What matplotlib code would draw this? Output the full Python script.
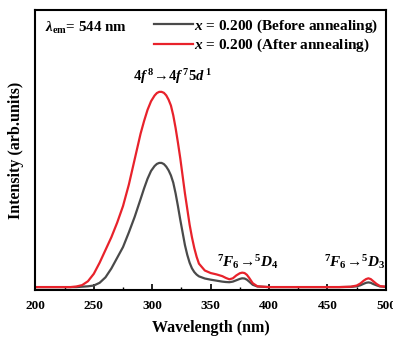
import matplotlib
matplotlib.use("Agg")
import matplotlib.pyplot as plt
from matplotlib.ticker import MultipleLocator

plt.rcParams["font.family"] = ["Liberation Serif", "DejaVu Serif"]
plt.rcParams["font.weight"] = "bold"
plt.rcParams["mathtext.fontset"] = "custom"
plt.rcParams["mathtext.rm"] = "Liberation Serif:bold"
plt.rcParams["mathtext.it"] = "Liberation Serif:bold:italic"
plt.rcParams["mathtext.bf"] = "Liberation Serif:bold"

# Excitation spectra (emission monitored at 544 nm)
wavelength = [200, 210, 220, 230, 235, 240, 245, 250, 255, 260, 265, 270, 275,
              280, 285, 290, 293, 296, 299, 302, 304, 306, 308, 310, 312, 314,
              316, 318, 320, 322, 324, 326, 328, 330, 332, 334, 336, 338, 340,
              345, 350, 355, 360, 363, 366, 369, 372, 375, 377, 379, 381, 383,
              386, 390, 400, 420, 440, 460, 470, 475, 478, 481, 483, 485, 487,
              489, 492, 495, 500]

before = [0.0, 0.0, 0.0, 0.0, 0.0, 0.002, 0.004, 0.008, 0.022, 0.05, 0.095,
          0.15, 0.205, 0.28, 0.36, 0.45, 0.505, 0.555, 0.595, 0.62, 0.631,
          0.636, 0.636, 0.63, 0.617, 0.598, 0.572, 0.535, 0.48, 0.415, 0.345,
          0.28, 0.215, 0.165, 0.125, 0.096, 0.077, 0.064, 0.055, 0.044, 0.038,
          0.033, 0.028, 0.026, 0.025, 0.028, 0.035, 0.042, 0.045, 0.044, 0.038,
          0.028, 0.012, 0.003, 0.0, 0.0, 0.0, 0.0, 0.001, 0.004, 0.009, 0.017,
          0.022, 0.024, 0.022, 0.016, 0.009, 0.003, 0.001]

after = [0.0, 0.0, 0.0, 0.0, 0.003, 0.01, 0.03, 0.068, 0.125, 0.19, 0.255,
         0.33, 0.415, 0.525, 0.655, 0.785, 0.85, 0.908, 0.952, 0.981, 0.994,
         1.0, 1.0, 0.995, 0.982, 0.96, 0.93, 0.88, 0.815, 0.74, 0.66, 0.57,
         0.48, 0.4, 0.32, 0.255, 0.2, 0.155, 0.12, 0.085, 0.072, 0.065, 0.056,
         0.047, 0.04, 0.045, 0.06, 0.071, 0.074, 0.072, 0.063, 0.047, 0.02,
         0.004, 0.0, 0.0, 0.0, 0.0, 0.002, 0.008, 0.018, 0.033, 0.041, 0.045,
         0.041, 0.031, 0.016, 0.005, 0.002]

series_labels = ["$x$ = 0.200 (Before annealing)", "$x$ = 0.200 (After annealing)"]
series_colors = ["#4a4a4a", "#e8222b"]

fig = plt.figure(figsize=(3.93, 3.40), dpi=100)
ax = fig.add_axes([0.090, 0.147, 0.892, 0.824])

ax.plot(wavelength, before, color=series_colors[0], lw=1.6, label=series_labels[0])
ax.plot(wavelength, after, color=series_colors[1], lw=1.6, label=series_labels[1])

ax.set_xlim(200, 500)
ax.set_ylim(-0.015, 1.42)
ax.set_yticks([])
ax.xaxis.set_major_locator(MultipleLocator(50))
ax.xaxis.set_minor_locator(MultipleLocator(25))
ax.tick_params(axis="x", which="major", direction="in", length=4, width=1.2,
               labelsize=9.5, pad=7)
ax.tick_params(axis="x", which="minor", direction="in", length=2.5, width=1.0)
for lab in ax.get_xticklabels():
    lab.set_fontweight("bold")
for sp in ax.spines.values():
    sp.set_linewidth(1.5)

ax.set_xlabel("Wavelength (nm)", fontsize=11.5, fontweight="bold", labelpad=6)
ax.set_ylabel("Intensity (arb.units)", fontsize=11.5, fontweight="bold", labelpad=8)

ax.text(0.027, 0.936, r"$\lambda_{\rm em}$= 544 nm", transform=ax.transAxes,
        fontsize=10.8, fontweight="bold", va="center", ha="left")

leg = ax.legend(loc="upper right", frameon=False, fontsize=11, handlelength=2.6,
                handletextpad=0.05, labelspacing=0.12, borderaxespad=0.2,
                borderpad=0.3)

ax.text(317, 1.08, r"$4f^{\,8}\!\rightarrow\!4f^{\,7}5d^{\,1}$",
        fontsize=10.5, ha="center", va="center")
ax.text(382, 0.13, r"$^{7}F_{6}\!\rightarrow\!{}^{5}D_{4}$",
        fontsize=11, ha="center", va="center")
ax.text(473, 0.13, r"$^{7}F_{6}\!\rightarrow\!{}^{5}D_{3}$",
        fontsize=11, ha="center", va="center")

fig.savefig("out.png", dpi=100)
